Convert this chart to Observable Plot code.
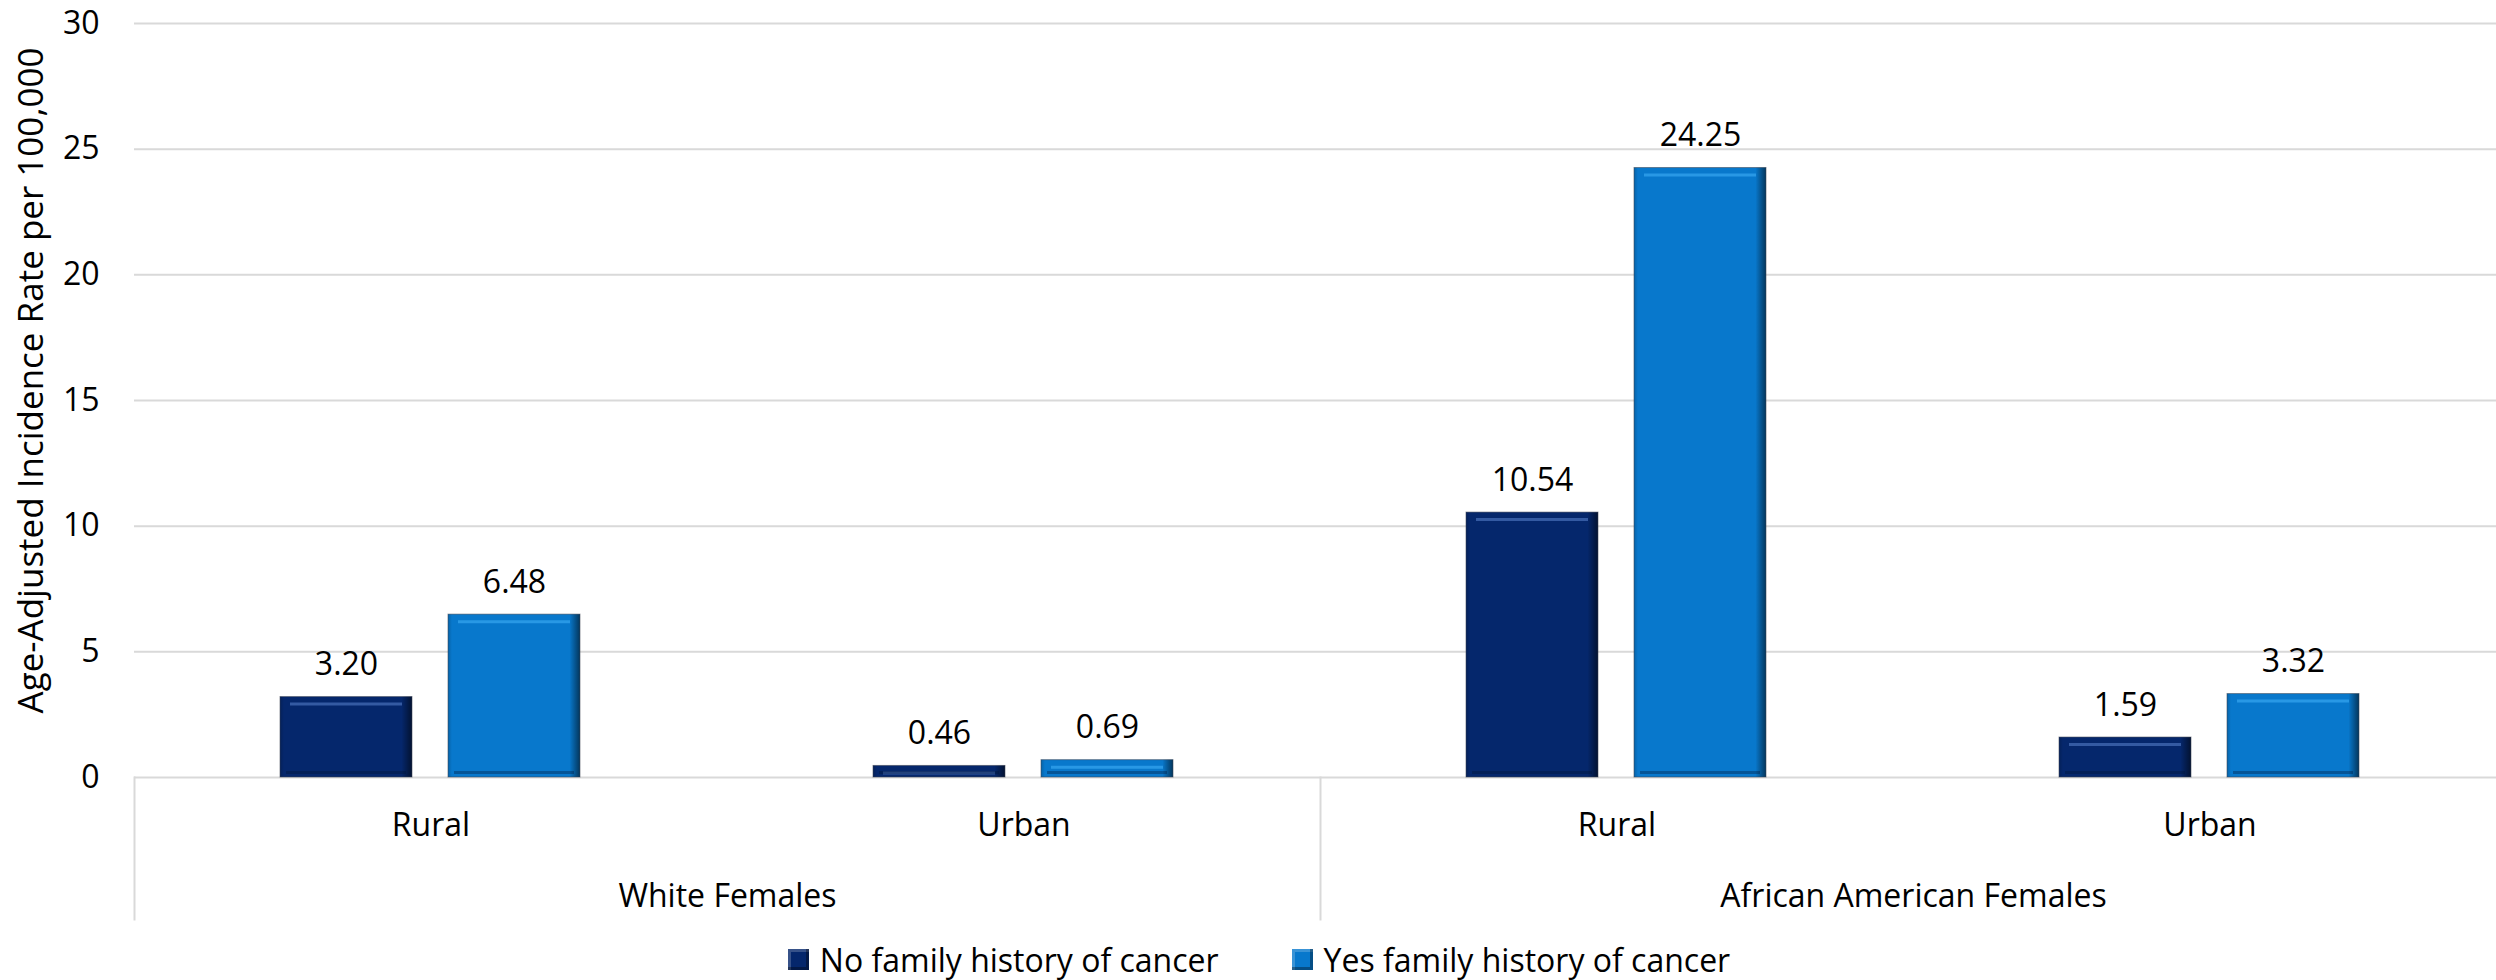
<!DOCTYPE html>
<html>
<head>
<meta charset="utf-8">
<script src="https://cdn.jsdelivr.net/npm/d3@7"></script>
<script src="https://cdn.jsdelivr.net/npm/@observablehq/plot@0.6"></script>
<style>
  html, body { margin: 0; padding: 0; background: #fff; }
  body { width: 2496px; height: 980px; overflow: hidden; font-family: "Open Sans", sans-serif; }
  #chart svg { display: block; }
  #legend { display: flex; justify-content: center; align-items: center; gap: 73px; height: 45px;
            padding-top: 4px; padding-left: 22px; box-sizing: border-box; font-size: 32px; color: #000; }
  .item { display: flex; align-items: center; gap: 11px; white-space: nowrap; }
  .sw { width: 21px; height: 21px; box-sizing: border-box; }
</style>
</head>
<body>
<div id="chart"></div>
<div id="legend"></div>
<script>
// ---- data ----
const races = ["White Females", "White Females", "African American Females", "African American Females"];
const residences = ["Rural", "Urban", "Rural", "Urban"];
const noHistory = [3.20, 0.46, 10.54, 1.59];
const yesHistory = [6.48, 0.69, 24.25, 3.32];
const seriesNames = ["No family history of cancer", "Yes family history of cancer"];
const seriesColors = ["#05276c", "#0878cc"];
const highlightColors = ["#3a60a8", "#2c9be8"];
const yTicks = [0, 5, 10, 15, 20, 25, 30];
const yTitle = "Age-Adjusted Incidence Rate per 100,000";

// ---- derived tables ----
const groups = races.map((r, i) => r + "|" + residences[i]);
const rows = [];
groups.forEach((g, i) => {
  rows.push({group: g, series: seriesNames[0], value: noHistory[i]});
  rows.push({group: g, series: seriesNames[1], value: yesHistory[i]});
});
const raceNames = [...new Set(races)];
const raceLabels = raceNames.map(r => ({race: r, group: groups[races.indexOf(r)]}));

// ---- layout ----
const W = 2496, H = 935, mTop = 23, mBottom = 158, mLeft = 134, mRight = -10;
const frameH = H - mTop - mBottom;
const font = "Open Sans";
const fs = 32;

const plot = Plot.plot({
  width: W,
  height: H,
  marginTop: mTop,
  marginBottom: mBottom,
  marginLeft: mLeft,
  marginRight: mRight,
  style: {fontFamily: font, fontSize: fs + "px", color: "#000", background: "#fff", overflow: "visible"},
  fx: {domain: groups, padding: 0, axis: null, label: null},
  x: {domain: seriesNames, paddingInner: 0.2137, paddingOuter: 0.867, axis: null},
  y: {domain: [0, 30], axis: null},
  color: {domain: seriesNames, range: seriesColors},
  marks: [
    Plot.gridY(yTicks, {stroke: "#d9d9d9", strokeOpacity: 1, strokeWidth: 2}),
    Plot.axisY(yTicks, {tickSize: 0, tickPadding: 35, fontSize: fs, label: null, lineAnchor: "middle"}),
    // category separators (left edge of each race group, extending below the axis)
    ...raceLabels.map(d => Plot.frame({anchor: "left", fx: () => d.group, stroke: "#d9d9d9", strokeOpacity: 1, strokeWidth: 2, insetTop: frameH, insetBottom: -142})),
    // bars
    Plot.barY(rows, {fx: "group", x: "series", y: "value", fill: "series"}),
    Plot.barY(rows, {fx: "group", x: "series", y: "value", fill: "url(#shadeH)", stroke: "#3b4250", strokeOpacity: 0.55, strokeWidth: 1}),
    Plot.tickY(rows, {fx: "group", x: "series", y: "value", dy: 7, inset: 10, strokeWidth: 3,
      stroke: d => highlightColors[seriesNames.indexOf(d.series)], strokeOpacity: 0.9}),
    Plot.tickY(rows, {fx: "group", x: "series", y: d => 0, dy: -5, inset: 6, strokeWidth: 3,
      stroke: "#001533", strokeOpacity: 0.35}),
    // value labels
    Plot.text(rows, {fx: "group", x: "series", y: "value", text: d => d.value.toFixed(2),
      lineAnchor: "bottom", dy: -22, fontSize: fs, fill: "#000"}),
    // inner category labels
    Plot.axisFx({anchor: "bottom", tickFormat: d => d.split("|")[1], tickSize: 0, tickPadding: 36, fontSize: fs, label: null}),
    // outer category labels
    Plot.text(raceLabels, {fx: "group", text: "race", frameAnchor: "bottom-right", textAnchor: "middle",
      lineAnchor: "top", dy: 107, fontSize: fs, fill: "#000"}),
    // y-axis title
    Plot.text([yTitle], {fx: () => groups[0], text: d => d, frameAnchor: "left", rotate: -90,
      textAnchor: "middle", lineAnchor: "middle", dx: -103, dy: -20, fontSize: 35, fill: "#000"})
  ]
});

plot.insertAdjacentHTML("afterbegin", `
<defs>
  <linearGradient id="shadeH" x1="0" y1="0" x2="1" y2="0">
    <stop offset="0" stop-color="#000" stop-opacity="0.18"/>
    <stop offset="0.03" stop-color="#000" stop-opacity="0"/>
    <stop offset="0.92" stop-color="#000" stop-opacity="0"/>
    <stop offset="1" stop-color="#000" stop-opacity="0.55"/>
  </linearGradient>
</defs>`);

document.getElementById("chart").appendChild(plot);

// legend
const legend = document.getElementById("legend");
seriesNames.forEach((name, i) => {
  const item = document.createElement("div");
  item.className = "item";
  const sw = document.createElement("div");
  sw.className = "sw";
  sw.style.background = seriesColors[i];
  sw.style.boxShadow = "inset -3px -3px 0 rgba(0,0,0,0.35), inset 3px 3px 0 rgba(255,255,255,0.2)";
  const label = document.createElement("span");
  label.textContent = name;
  item.appendChild(sw);
  item.appendChild(label);
  legend.appendChild(item);
});
</script>
</body>
</html>
